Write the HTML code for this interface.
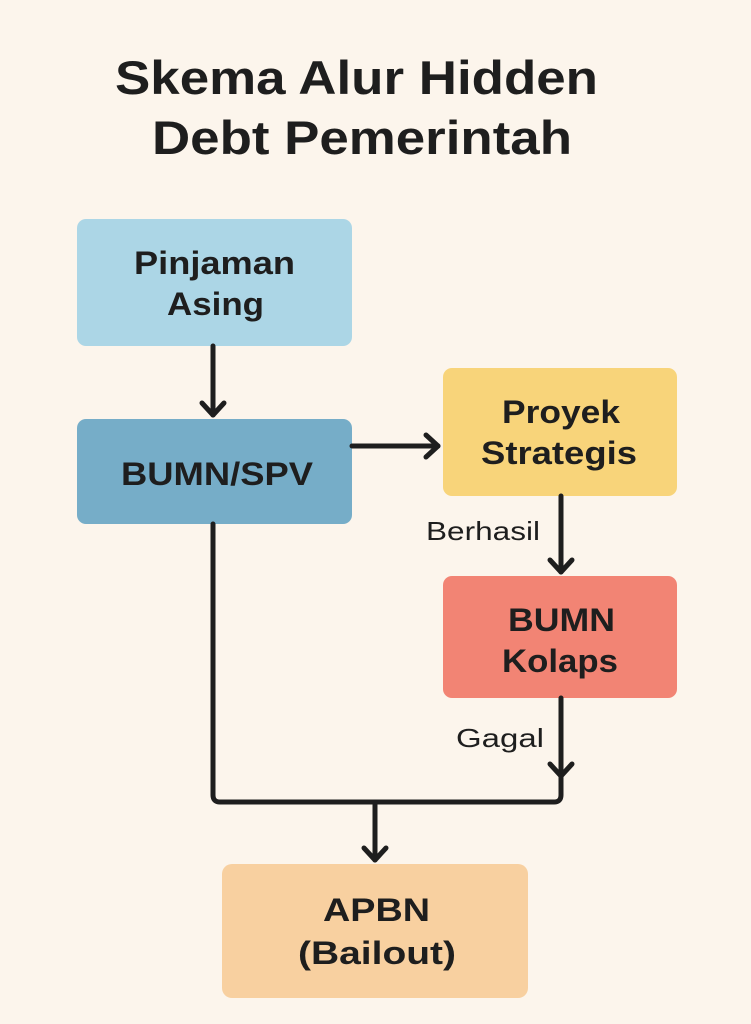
<!DOCTYPE html>
<html><head><meta charset="utf-8"><style>
html,body{margin:0;padding:0;background:#fcf5ec;}
svg{display:block}
text{font-family:"Liberation Sans",sans-serif;fill:#1e1e1e}
.b{font-weight:bold;font-size:32px}
.t{font-weight:bold;font-size:47px}
.l{font-size:26px}
</style></head><body>
<svg width="751" height="1024" viewBox="0 0 751 1024">
<rect width="751" height="1024" fill="#fcf5ec"/>
<text class="t" x="115" y="94" textLength="483" lengthAdjust="spacingAndGlyphs">Skema Alur Hidden</text>
<text class="t" x="152" y="154" textLength="420" lengthAdjust="spacingAndGlyphs">Debt Pemerintah</text>

<rect x="77" y="219" width="275" height="127" rx="9" fill="#acd6e6"/>
<rect x="77" y="419" width="275" height="105" rx="9" fill="#76adc8"/>
<rect x="443" y="368" width="234" height="128" rx="9" fill="#f8d47a"/>
<rect x="443" y="576" width="234" height="122" rx="9" fill="#f28474"/>
<rect x="222" y="864" width="306" height="134" rx="10" fill="#f8d0a0"/>

<text class="b" x="134" y="274" textLength="161" lengthAdjust="spacingAndGlyphs">Pinjaman</text>
<text class="b" x="167" y="315" textLength="97" lengthAdjust="spacingAndGlyphs">Asing</text>
<text class="b" x="121" y="485" textLength="192" lengthAdjust="spacingAndGlyphs">BUMN/SPV</text>
<text class="b" x="502" y="423" textLength="118" lengthAdjust="spacingAndGlyphs">Proyek</text>
<text class="b" x="481" y="464" textLength="156" lengthAdjust="spacingAndGlyphs">Strategis</text>
<text class="b" x="508" y="631" textLength="107" lengthAdjust="spacingAndGlyphs">BUMN</text>
<text class="b" x="502" y="672" textLength="116" lengthAdjust="spacingAndGlyphs">Kolaps</text>
<text class="b" x="323" y="921" textLength="107" lengthAdjust="spacingAndGlyphs">APBN</text>
<text class="b" x="298" y="964" textLength="158" lengthAdjust="spacingAndGlyphs">(Bailout)</text>
<text class="l" x="426" y="540" textLength="114" lengthAdjust="spacingAndGlyphs">Berhasil</text>
<text class="l" x="456" y="747" textLength="88" lengthAdjust="spacingAndGlyphs">Gagal</text>

<g stroke="#1e1e1e" stroke-width="5" fill="none" stroke-linecap="round" stroke-linejoin="round">
<line x1="213" y1="346" x2="213" y2="415"/>
<polyline points="202,403 213,415 224,403"/>
<line x1="352" y1="446" x2="438" y2="446"/>
<polyline points="426,435 438,446 426,457"/>
<line x1="561" y1="496" x2="561" y2="572"/>
<polyline points="550,560 561,572 572,560"/>
<line x1="561" y1="698" x2="561" y2="776"/>
<polyline points="550,764 561,776 572,764"/>
<path d="M213 524 V795 Q213 802 220 802 H554 Q561 802 561 795 V776"/>
<line x1="375" y1="802" x2="375" y2="860"/>
<polyline points="364,848 375,860 386,848"/>
</g>
</svg>
</body></html>
